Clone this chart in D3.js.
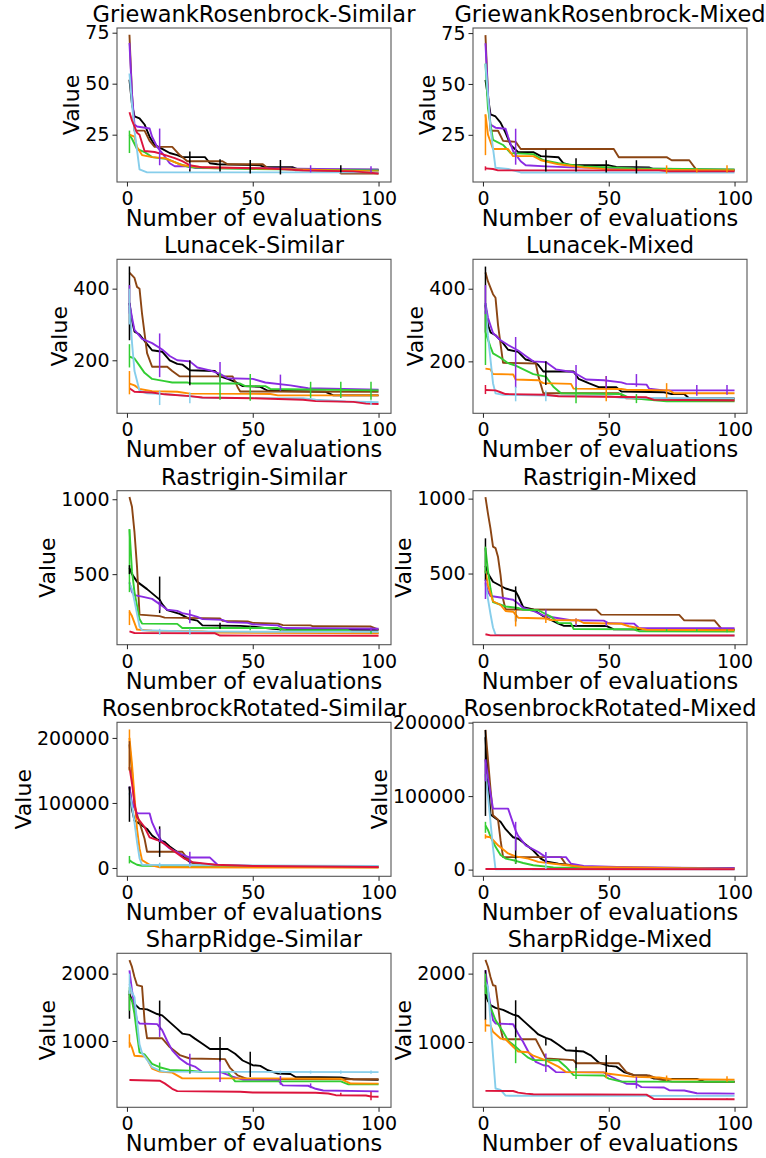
<!DOCTYPE html>
<html><head><meta charset="utf-8">
<script src="https://cdn.jsdelivr.net/npm/d3@7"></script>
<style>
body{margin:0;background:#fff}
svg{display:block}
text{font-family:"DejaVu Sans",sans-serif;fill:#000}
</style>
</head><body>
<svg id="chart" width="766" height="1158"></svg>
<script>
// ---------- data ----------
const seriesNames = ["black","brown","purple","green","orange","skyblue","red"];
const seriesColors = ["#000000","#8B4513","#8A2BE2","#32CD32","#FF8C00","#87CEEB","#DC143C"];
const drawOrder = [0,1,2,3,4,5,6];
const panelTitles = ["GriewankRosenbrock-Similar","GriewankRosenbrock-Mixed","Lunacek-Similar","Lunacek-Mixed",
  "Rastrigin-Similar","Rastrigin-Mixed","RosenbrockRotated-Similar","RosenbrockRotated-Mixed","SharpRidge-Similar","SharpRidge-Mixed"];
const xTicks = [0,50,100];
const yTicks = [[25,50,75],[25,50,75],[200,400],[200,400],[500,1000],[500,1000],[0,100000,200000],[0,100000,200000],[1000,2000],[1000,2000]];
const xDomain = [-3.95,104.95];
const yDomains = [[1.8,77.3],[1.8,77.5],[52,482],[57,481],[29,1057],[25,1053],[-12800,224000],[-9100,200400],[15,2302],[45,2297]];

// each panel: 7 series (black, brown, purple, green, orange, skyblue, red) as [evaluation, value]
const grSimilar = [
 [[1,52],[2,40],[3,34],[5,33],[7,30],[9,24],[11,20],[14,18],[17,16],[20,15],[22,14],[31,14],[33,11],[36,10.5],[53,10],[55,9],[66,9],[68,8],[100,7.8]],
 [[1,74],[2,45],[3,27],[7,27],[9,22],[11,19],[18,19],[21,15],[24,12],[38,12],[40,10.5],[54,10.5],[56,8.5],[65,8.5],[67,7.5],[84,7.2],[85,6],[100,6]],
 [[1,70],[2,45],[3,30],[4,29],[9,28],[10,24],[12,19],[14,16],[17,11],[19,9.5],[25,9.5],[27,8.7],[60,8.5],[100,7.8]],
 [[1,25],[2,23],[4,18],[7,16.5],[10,14],[16,13],[20,11],[25,9],[35,8.5],[60,8],[100,7.5]],
 [[1,25],[3,24],[4,19],[6,15],[10,14],[15,13.5],[18,12],[22,10],[30,9],[50,8.5],[100,7]],
 [[1,55],[2,40],[3,27],[5,8],[8,6.5],[100,6.5]],
 [[1,36],[2,32],[4,26],[5,25],[7,17],[11,16.5],[14,15.5],[19,13.5],[22,12],[25,10],[30,9],[55,8.5],[70,7.5],[90,7],[95,6.5],[100,6]]
];
const grSimilarErr = [[3,1,16,27],[2,13,10,28],[0,25,7,16.7],[2,25,8,11],[0,37,7,13],[0,49,6,12.6],[0,61,5.5,12.6],[2,73,6.5,10],[0,85,6.5,10],[2,97,6.5,9.5]];

const grMixed = [
 [[1,52],[3,35],[5,34],[7,31],[9,26],[11,20],[14,16.5],[20,16.5],[23,14.5],[30,14],[32,11],[35,10],[50,10],[53,9.2],[66,9],[68,8],[100,7.5]],
 [[1,74],[2,45],[3,27],[6,27],[8,22],[13,21.5],[15,18],[52,18],[54,14],[73,14],[75,12.5],[82,12.5],[85,7.5],[100,7.5]],
 [[1,70],[2,45],[3,30],[5,28.5],[9,28],[10,24],[12,17],[15,12],[17,10],[25,9.5],[35,9],[60,8.5],[100,7.8]],
 [[1,60],[2,38],[4,22.5],[8,20],[11,16],[20,15.5],[24,12.5],[30,11],[40,9.5],[60,8.5],[100,8]],
 [[1,35],[2,25],[4,18],[10,18],[12,14.5],[20,14.5],[23,12.5],[30,10.5],[40,9],[50,8],[100,7.5]],
 [[1,60],[3,28],[5,8.8],[10,8.2],[15,6.5],[100,6.5]],
 [[1,8.5],[4,8.2],[6,7.5],[70,7.5],[74,7],[100,7]]
];
const grMixedErr = [[4,1,15,35],[6,1,7.5,9.5],[2,13,10.3,28],[0,25,7,17.6],[0,37,7,13.5],[0,49,6.5,12.5],[0,61,6,12.5],[4,73,6,10],[4,85,6.5,8.5],[4,97,6.5,10]];

const lunacekSimilar = [
 [[1,360],[2,310],[3,280],[5,272],[8,245],[10,228],[14,224],[17,200],[20,190],[22,188],[25,172],[35,170],[37,155],[40,148],[43,140],[46,128],[53,126],[56,115],[79,112],[82,102],[100,102]],
 [[1,445],[3,430],[4,405],[5,400],[6,330],[8,220],[10,182],[16,182],[18,170],[21,155],[42,155],[44,125],[45,113],[100,112]],
 [[1,360],[2,320],[3,285],[6,260],[10,248],[14,230],[17,212],[20,200],[25,197],[28,180],[33,172],[37,162],[40,150],[50,148],[55,138],[65,130],[72,122],[100,118]],
 [[1,210],[3,205],[5,185],[7,165],[10,148],[15,142],[18,138],[24,138],[26,135],[45,135],[47,128],[55,128],[57,120],[100,116]],
 [[1,135],[3,130],[5,120],[10,114],[20,112],[25,107],[57,106],[60,102],[100,102]],
 [[1,350],[2,250],[3,170],[5,115],[8,108],[15,106],[25,100],[30,95],[70,94],[75,90],[87,85],[100,83]],
 [[1,122],[3,112],[10,110],[15,105],[25,100],[30,96],[50,94],[70,90],[75,86],[90,84],[95,79],[100,78]]
];
const lunacekSimilarErr = [[0,1,256,462],[2,1,330,410],[3,1,180,245],[4,1,105,170],[5,1,300,400],[2,13,153,275],[5,13,75,115],[0,25,130,200],[5,25,80,110],[2,37,140,195],[3,37,90,165],[3,49,87,162],[2,61,115,160],[3,73,95,140],[3,85,95,140],[3,97,90,140],[5,97,75,88]];

const lunacekMixed = [
 [[1,355],[2,300],[3,280],[5,272],[8,250],[10,232],[14,226],[17,205],[20,200],[22,190],[24,172],[36,172],[38,152],[42,140],[46,129],[53,129],[55,117],[72,115],[75,110],[80,110],[82,98],[100,98]],
 [[1,445],[2,420],[4,385],[5,375],[6,300],[8,196],[21,194],[22,160],[24,112],[54,112],[57,98],[100,95]],
 [[1,360],[2,320],[4,278],[7,258],[10,245],[14,230],[17,215],[20,200],[25,198],[29,178],[36,170],[41,150],[48,148],[55,142],[57,138],[65,136],[66,125],[72,120],[100,120]],
 [[1,280],[3,240],[4,222],[7,210],[10,195],[13,188],[20,165],[25,158],[28,130],[31,112],[55,110],[58,100],[65,95],[73,90],[100,90]],
 [[1,180],[3,178],[4,165],[12,164],[13,150],[22,148],[24,140],[35,138],[36,125],[55,124],[57,122],[74,120],[76,112],[100,112]],
 [[1,360],[2,270],[4,140],[5,112],[8,108],[30,105],[50,104],[55,100],[100,98]],
 [[1,121],[5,120],[7,115],[9,110],[25,108],[30,104],[65,101],[68,94],[100,92]]
];
const lunacekMixedErr = [[0,1,280,461],[3,1,190,340],[2,1,330,410],[6,1,110,135],[2,13,127,267],[5,13,90,130],[0,25,135,200],[5,25,90,120],[2,37,120,190],[3,37,85,130],[4,49,90,160],[2,49,125,160],[3,61,85,110],[2,61,130,165],[4,73,100,140],[2,85,105,135],[2,97,108,135]];

const rastriginSimilar = [
 [[1,540],[2,500],[4,450],[8,400],[13,330],[14,300],[16,260],[21,235],[25,200],[28,190],[30,158],[45,155],[50,150],[58,135],[62,130],[100,128]],
 [[1,1015],[2,950],[3,780],[4,550],[5,230],[13,220],[15,210],[37,205],[38,188],[48,185],[50,175],[60,170],[62,160],[73,158],[74,152],[97,150],[100,130]],
 [[1,445],[2,380],[3,360],[6,350],[10,335],[13,300],[16,262],[20,255],[22,240],[25,230],[28,215],[30,200],[38,195],[40,180],[48,175],[50,165],[60,158],[62,140],[100,135]],
 [[1,800],[2,520],[3,380],[5,200],[6,170],[20,168],[22,140],[60,140],[63,128],[88,125],[90,108],[100,106]],
 [[1,250],[2,220],[4,130],[10,122],[30,118],[35,110],[80,106],[100,105]],
 [[1,440],[2,400],[3,320],[5,150],[6,125],[25,118],[60,115],[100,115]],
 [[1,118],[3,107],[35,105],[37,90],[100,89]]
];
const rastriginSimilarErr = [[3,1,380,800],[0,1,500,560],[4,1,160,260],[0,13,240,484],[2,13,260,320],[5,13,95,135],[2,25,173,262],[5,25,95,135],[0,37,135,175],[3,49,125,150],[3,61,120,140],[2,97,120,145],[3,97,100,120]];

const rastriginMixed = [
 [[1,550],[2,500],[4,445],[9,400],[13,380],[14,350],[16,275],[20,260],[24,215],[27,190],[30,165],[32,152],[49,150],[52,127],[100,125]],
 [[1,1010],[2,900],[3,800],[4,680],[5,670],[6,610],[7,490],[8,330],[9,260],[45,258],[47,226],[78,224],[80,188],[92,187],[95,128],[100,125]],
 [[1,440],[2,380],[3,350],[7,340],[12,325],[14,300],[16,270],[20,250],[24,220],[27,210],[35,188],[48,186],[50,168],[60,166],[62,136],[100,135]],
 [[1,670],[2,520],[3,400],[4,310],[9,280],[14,270],[16,258],[22,255],[27,213],[30,170],[35,168],[36,130],[60,128],[62,115],[100,113]],
 [[1,520],[2,420],[4,315],[7,290],[9,250],[12,245],[14,205],[25,200],[27,190],[38,188],[40,170],[55,165],[58,148],[65,125],[100,121]],
 [[1,430],[2,330],[3,230],[4,140],[5,92],[7,88],[100,86]],
 [[1,95],[3,87],[100,86]]
];
const rastriginMixedErr = [[0,1,450,735],[2,1,330,460],[3,1,500,680],[0,13,180,414],[4,13,147,258],[2,25,200,260],[4,25,170,220],[2,37,150,200],[4,37,165,200],[2,49,150,180],[3,61,115,140],[3,73,110,130],[3,85,110,130],[3,97,108,128]];

const rrSimilar = [
 [[1,125000],[2,90000],[3,73000],[5,68000],[8,60000],[10,50000],[12,44000],[15,40000],[17,33000],[21,22000],[25,9000],[30,6000],[40,4000],[55,2000],[100,1500]],
 [[1,190000],[2,150000],[3,95000],[5,70000],[7,45000],[8,25000],[22,25000],[24,15000],[26,8000],[35,4000],[50,2000],[100,1000]],
 [[1,125000],[2,100000],[4,84000],[9,84000],[10,70000],[12,53000],[14,40000],[17,30000],[21,22000],[25,16000],[33,16000],[36,5000],[50,3000],[100,2000]],
 [[1,12000],[2,9000],[4,5000],[6,3500],[100,2500]],
 [[1,200000],[2,160000],[3,110000],[4,60000],[5,30000],[6,12000],[9,5000],[13,1000],[100,500]],
 [[1,115000],[2,95000],[3,70000],[4,40000],[5,15000],[6,5000],[100,3000]],
 [[1,155000],[2,130000],[3,100000],[4,78000],[7,63000],[9,47000],[12,43000],[15,37000],[19,25000],[23,14000],[26,9000],[35,5000],[50,3000],[100,1500]]
];
const rrSimilarErr = [[4,1,150000,213000],[0,1,71000,125000],[1,1,150000,195000],[3,1,7000,18500],[0,13,17000,64000],[2,13,40000,60000],[5,13,1000,8000],[2,25,5000,25000],[5,25,1000,6000]];

const rrMixed = [
 [[1,180000],[2,120000],[3,75000],[5,70000],[7,65000],[9,55000],[12,44000],[14,42000],[16,37000],[20,26000],[23,15000],[25,11000],[30,8000],[40,4000],[60,2000],[100,1500]],
 [[1,190000],[2,150000],[3,110000],[4,74000],[6,68000],[7,40000],[8,17000],[31,17000],[33,7000],[40,3500],[100,1500]],
 [[1,150000],[2,125000],[4,83000],[10,83000],[13,53000],[14,46000],[17,33000],[22,24000],[25,17000],[33,17000],[35,8000],[40,5000],[60,3000],[100,2000]],
 [[1,60000],[2,54000],[3,45000],[5,31000],[7,20000],[9,15000],[13,12000],[16,9000],[20,6000],[28,3000],[100,1000]],
 [[1,45000],[3,44000],[6,33000],[10,22000],[13,18000],[18,15000],[22,10500],[28,8000],[40,3500],[100,1000]],
 [[1,130000],[2,100000],[3,65000],[4,30000],[5,500],[100,300]],
 [[1,800],[100,500]]
];
const rrMixedErr = [[0,1,73000,190000],[2,1,120000,150000],[3,1,50000,65000],[4,1,42000,48000],[0,13,8000,42000],[2,13,26000,65000],[3,13,8000,15000],[5,25,1000,22000],[2,25,9000,24000]];

const sharpRidgeSimilar = [
 [[1,1700],[2,1600],[3,1550],[5,1480],[8,1470],[12,1400],[14,1380],[17,1280],[20,1180],[22,1110],[25,1090],[27,1035],[30,960],[33,880],[40,880],[43,810],[46,710],[50,640],[53,630],[56,565],[60,515],[65,510],[67,465],[85,460],[90,430],[100,425]],
 [[1,2200],[2,2100],[3,1950],[4,1830],[6,1810],[7,1300],[8,1040],[14,1040],[17,910],[21,790],[25,740],[39,730],[41,600],[44,490],[48,435],[100,432]],
 [[1,2050],[2,1750],[4,1300],[5,1260],[12,1250],[14,1160],[16,1000],[18,860],[21,740],[24,660],[27,620],[30,540],[37,540],[42,470],[46,425],[60,420],[62,340],[72,335],[75,290],[78,265],[100,252]],
 [[1,1650],[2,1600],[3,1400],[4,1100],[5,830],[7,800],[10,660],[13,610],[17,570],[25,560],[30,540],[40,540],[43,400],[85,400],[88,357],[100,357]],
 [[1,980],[2,900],[3,780],[7,770],[8,730],[10,590],[13,545],[18,530],[22,445],[50,445],[85,440],[87,400],[89,368],[100,366]],
 [[1,1850],[2,1720],[3,1650],[4,1300],[5,950],[6,820],[8,720],[10,610],[13,560],[15,545],[100,537]],
 [[1,420],[13,410],[15,370],[18,290],[20,255],[45,245],[50,235],[75,230],[80,220],[83,195],[95,190],[97,175],[100,172]]
];
const sharpRidgeSimilarErr = [[0,1,1330,1750],[3,1,1450,1800],[4,1,900,1100],[5,1,1700,2000],[0,13,1160,1600],[2,13,1060,1360],[3,13,560,680],[2,25,515,810],[3,25,520,620],[0,37,690,1060],[2,37,390,710],[0,49,465,840],[2,61,350,480],[5,61,515,560],[2,73,300,370],[5,73,515,560],[6,85,190,230],[5,85,515,560],[6,97,120,245],[5,97,515,560]];

const sharpRidgeMixed = [
 [[1,1700],[2,1600],[3,1540],[5,1500],[8,1470],[12,1400],[14,1380],[17,1280],[20,1180],[22,1110],[25,1060],[27,1035],[30,960],[33,880],[40,860],[43,800],[46,700],[50,650],[53,640],[56,560],[60,515],[65,510],[68,465],[85,460],[88,420],[100,420]],
 [[1,2200],[2,2100],[3,1950],[4,1830],[5,1820],[6,1550],[7,1200],[8,1040],[21,1040],[23,900],[25,760],[36,735],[37,690],[54,690],[57,560],[60,515],[66,510],[70,455],[75,420],[100,415]],
 [[1,2050],[2,1750],[4,1320],[5,1270],[12,1260],[14,1120],[16,1000],[18,860],[21,710],[24,660],[26,650],[29,560],[48,555],[50,510],[53,455],[57,390],[61,385],[63,340],[72,335],[74,295],[80,290],[85,250],[100,245]],
 [[1,1830],[2,1650],[3,1510],[5,1320],[8,1150],[10,1020],[13,930],[16,830],[18,770],[20,735],[30,732],[33,635],[36,515],[48,510],[50,465],[55,420],[100,418]],
 [[1,1245],[3,1240],[4,1150],[7,1050],[9,1040],[12,930],[14,860],[18,850],[20,800],[25,730],[30,640],[33,560],[48,555],[50,535],[60,490],[70,480],[75,455],[100,450]],
 [[1,1880],[2,1800],[3,1300],[4,800],[5,320],[7,300],[9,215],[100,212]],
 [[1,285],[12,283],[14,260],[17,245],[20,235],[65,230],[68,165],[100,162]]
];
const sharpRidgeMixedErr = [[0,1,1320,2050],[4,1,1150,1330],[3,1,1700,2000],[0,13,1070,1610],[3,13,690,1070],[0,25,950,1050],[2,25,560,830],[3,25,650,760],[0,37,590,930],[3,37,460,620],[0,49,510,810],[4,49,470,560],[2,61,320,490],[4,73,430,510],[6,85,150,175],[4,97,420,500],[6,97,150,175]];

const panelSeries = [grSimilar,grMixed,lunacekSimilar,lunacekMixed,rastriginSimilar,rastriginMixed,rrSimilar,rrMixed,sharpRidgeSimilar,sharpRidgeMixed];
const panelErrors = [grSimilarErr,grMixedErr,lunacekSimilarErr,lunacekMixedErr,rastriginSimilarErr,rastriginMixedErr,rrSimilarErr,rrMixedErr,sharpRidgeSimilarErr,sharpRidgeMixedErr];

// ---------- layout ----------
const colLeft = [117, 473];
const rowTop = [28, 259.3, 490.7, 722.3, 953.3];
const axW = 274, axH = 154;

const svg = d3.select("#chart");

panelTitles.forEach((title, i) => {
  const col = i % 2, row = Math.floor(i / 2);
  const g = svg.append("g").attr("transform", `translate(${colLeft[col]},${rowTop[row]})`);
  const x = d3.scaleLinear().domain(xDomain).range([0, axW]);
  const y = d3.scaleLinear().domain(yDomains[i]).range([axH, 0]);

  const line = d3.line().x(d => x(d[0])).y(d => y(d[1]));
  const plot = g.append("g");
  drawOrder.forEach(s => {
    plot.append("path").datum(panelSeries[i][s])
      .attr("fill", "none").attr("stroke", seriesColors[s])
      .attr("stroke-width", 1.9).attr("stroke-linejoin", "round")
      .attr("d", line);
  });
  plot.selectAll("line.err").data(panelErrors[i]).enter().append("line")
    .attr("class", "err")
    .attr("x1", d => x(d[1])).attr("x2", d => x(d[1]))
    .attr("y1", d => y(d[2])).attr("y2", d => y(d[3]))
    .attr("stroke", d => seriesColors[d[0]]).attr("stroke-width", 1.5);

  // frame
  g.append("rect").attr("x", 0).attr("y", 0).attr("width", axW).attr("height", axH)
    .attr("fill", "none").attr("stroke", "#555").attr("stroke-width", 1.1);

  const xa = g.append("g").attr("transform", `translate(0,${axH})`)
    .call(d3.axisBottom(x).tickValues(xTicks).tickSize(4.5).tickPadding(5).tickFormat(d3.format("d")));
  const ya = g.append("g")
    .call(d3.axisLeft(y).tickValues(yTicks[i]).tickSize(4.5).tickPadding(3).tickFormat(d3.format("d")));
  [xa, ya].forEach(a => {
    a.select(".domain").remove();
    a.selectAll(".tick line").attr("stroke", "#222");
    a.selectAll(".tick text").attr("font-size", "19px").attr("font-family", "DejaVu Sans, sans-serif").attr("fill", "#000");
  });

  g.append("text").attr("x", axW / 2).attr("y", -6).attr("text-anchor", "middle")
    .attr("font-size", "22.5px").text(title);
  g.append("text").attr("x", axW / 2).attr("y", axH + 44).attr("text-anchor", "middle")
    .attr("font-size", "22.5px").text("Number of evaluations");
  const bb = ya.node().getBBox();
  g.append("text").attr("transform", `translate(${bb.x - 6},${axH / 2}) rotate(-90)`)
    .attr("text-anchor", "middle").attr("font-size", "22px").text("Value");
});
</script>
</body></html>
